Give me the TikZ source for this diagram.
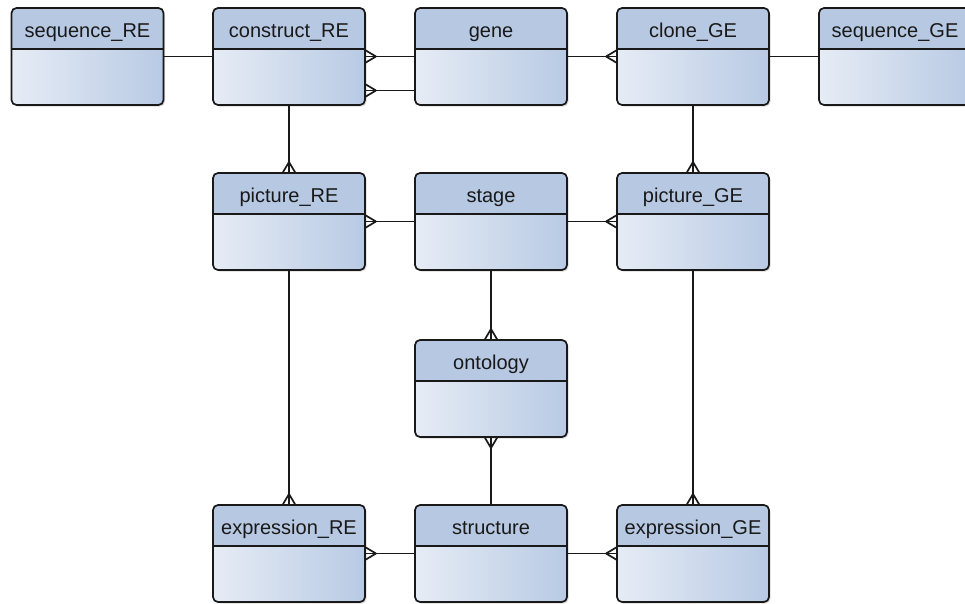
\documentclass[tikz,border=0pt]{standalone}
\usepackage{fontspec}
\setmainfont{Liberation Sans}
\usetikzlibrary{shadows,decorations.markings}

\definecolor{headblue}{HTML}{B7C8E2}
\definecolor{bodylight}{HTML}{E6ECF5}
\definecolor{bodydark}{HTML}{B8CAE4}

\tikzset{
	entbody/.style={rectangle, rounded corners=5pt, minimum width=152pt, minimum height=97pt,
		inner sep=0pt, outer sep=0pt, left color=bodylight, right color=bodydark,
		drop shadow={shadow xshift=1.5pt, shadow yshift=-1.5pt, opacity=.3}},
	entname/.style={font=\fontsize{20}{24}\selectfont, text=black!90, inner sep=0pt, anchor=base},
	conn/.style={line width=1.7pt, black!90},
	many end/.style={postaction={decorate, decoration={markings,
		mark=at position 1 with {\draw[conn] (-11pt,0pt) -- (0pt,6.5pt) (-11pt,0pt) -- (0pt,-6.5pt);}}}},
	many start/.style={postaction={decorate, decoration={markings,
		mark=at position 0 with {\draw[conn] (11pt,0pt) -- (0pt,6.5pt) (11pt,0pt) -- (0pt,-6.5pt);}}}},
}

% entity box: name, position, title
\newcommand{\entity}[3]{%
	\node[entbody] (#1) at (#2) {};
	\begin{scope}
		\clip[rounded corners=5pt] (#1.south west) rectangle (#1.north east);
		\fill[headblue] (#1.north west) rectangle ([yshift=-41pt]#1.north east);
	\end{scope}
	\draw[conn] ([yshift=-41pt]#1.north west) -- ([yshift=-41pt]#1.north east);
	\draw[conn, rounded corners=5pt] (#1.south west) rectangle (#1.north east);
	\node[entname] (#1-name) at ([yshift=-29pt]#1.north) {#3};
}

\begin{document}
\begin{tikzpicture}[x=1pt, y=-1pt]
	\useasboundingbox (0,0) rectangle (965,603);

	% entities
	\entity{seqRE}{87.5,56.5}{sequence\_RE}
	\entity{constRE}{289,56.5}{construct\_RE}
	\entity{gene}{491,56.5}{gene}
	\entity{cloneGE}{693,56.5}{clone\_GE}
	\entity{seqGE}{895,56.5}{sequence\_GE}
	\entity{picRE}{289,221.5}{picture\_RE}
	\entity{stage}{491,221.5}{stage}
	\entity{picGE}{693,221.5}{picture\_GE}
	\entity{onto}{491,388.5}{ontology}
	\entity{exprRE}{289,553.5}{expression\_RE}
	\entity{struct}{491,553.5}{structure}
	\entity{exprGE}{693,553.5}{expression\_GE}

	% relations
	\draw[conn] (seqRE) -- (constRE);
	\draw[conn, many start] (constRE) -- (gene);
	\draw[conn, many start] ([yshift=-34pt]constRE.east) -- ([yshift=-34pt]gene.west);
	\draw[conn, many end] (gene) -- (cloneGE);
	\draw[conn] (cloneGE) -- (seqGE);
	\draw[conn, many end] (constRE) -- (picRE);
	\draw[conn, many end] (cloneGE) -- (picGE);
	\draw[conn, many start] (picRE) -- (stage);
	\draw[conn, many end] (stage) -- (picGE);
	\draw[conn, many end] (stage) -- (onto);
	\draw[conn, many start] (onto) -- (struct);
	\draw[conn, many end] (picRE) -- (exprRE);
	\draw[conn, many end] (picGE) -- (exprGE);
	\draw[conn, many start] (exprRE) -- (struct);
	\draw[conn, many end] (struct) -- (exprGE);
\end{tikzpicture}
\end{document}
